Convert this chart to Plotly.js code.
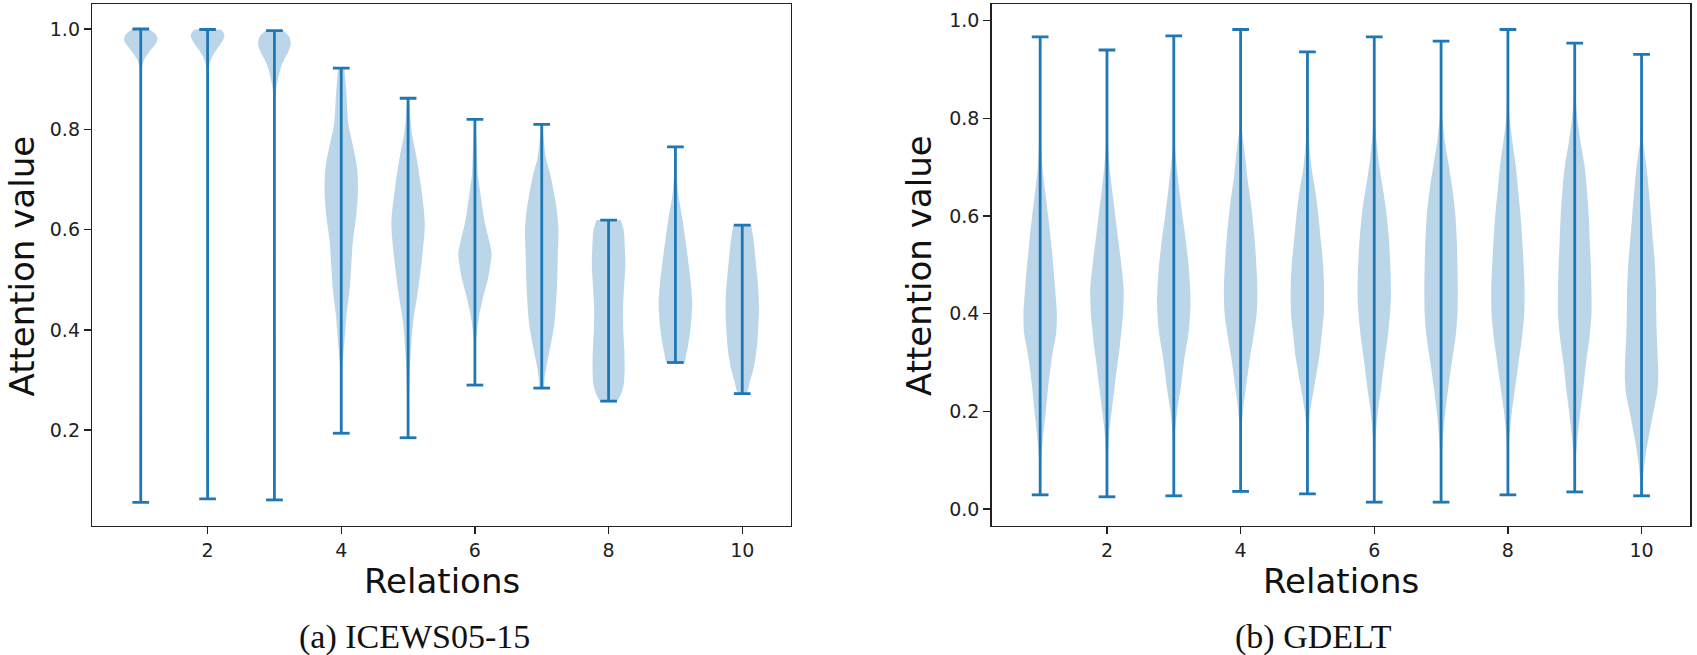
<!DOCTYPE html>
<html>
<head>
<meta charset="utf-8">
<script src="https://cdn.plot.ly/plotly-3.0.1.min.js"></script>
<style>
  html, body { margin: 0; padding: 0; background: #fff; }
  #chart { width: 1697px; height: 655px; }
</style>
</head>
<body>
<div id="chart"></div>
<script>
// ---------------- DATA ----------------
const relations = [1, 2, 3, 4, 5, 6, 7, 8, 9, 10];
const xTickVals = [2, 4, 6, 8, 10];

// (a) ICEWS05-15 : extremes of each violin
const icewsMax = [1.000, 0.999, 0.997, 0.922, 0.862, 0.820, 0.810, 0.619, 0.765, 0.609];
const icewsMin = [0.056, 0.063, 0.061, 0.194, 0.185, 0.290, 0.284, 0.258, 0.335, 0.273];
// density profile: attention levels (top -> bottom) and half widths (x units) at those levels
const icewsLevels = [
  [1.000, 0.990, 0.981, 0.970, 0.958, 0.945, 0.935, 0.920, 0.900, 0.850, 0.500, 0.056],
  [0.999, 0.990, 0.981, 0.971, 0.958, 0.945, 0.935, 0.925, 0.910, 0.880, 0.500, 0.063],
  [0.997, 0.985, 0.971, 0.960, 0.952, 0.940, 0.925, 0.910, 0.898, 0.885, 0.872, 0.860, 0.845, 0.800, 0.061],
  [0.922, 0.878, 0.812, 0.773, 0.725, 0.679, 0.629, 0.579, 0.529, 0.480, 0.430, 0.380, 0.314, 0.260, 0.194],
  [0.862, 0.829, 0.789, 0.745, 0.679, 0.613, 0.545, 0.480, 0.414, 0.346, 0.280, 0.185],
  [0.820, 0.759, 0.709, 0.679, 0.645, 0.613, 0.579, 0.553, 0.529, 0.505, 0.466, 0.426, 0.380, 0.290],
  [0.810, 0.779, 0.745, 0.709, 0.679, 0.639, 0.599, 0.545, 0.480, 0.414, 0.370, 0.330, 0.300, 0.284],
  [0.619, 0.599, 0.559, 0.529, 0.480, 0.440, 0.400, 0.361, 0.320, 0.290, 0.270, 0.258],
  [0.765, 0.719, 0.669, 0.625, 0.579, 0.539, 0.494, 0.450, 0.400, 0.370, 0.350, 0.335],
  [0.609, 0.573, 0.539, 0.505, 0.470, 0.440, 0.406, 0.374, 0.346, 0.326, 0.300, 0.273]
];
const icewsWidths = [
  [0.120, 0.220, 0.250, 0.220, 0.150, 0.080, 0.040, 0.015, 0.006, 0.003, 0.002, 0.002],
  [0.200, 0.250, 0.240, 0.200, 0.130, 0.070, 0.040, 0.020, 0.008, 0.003, 0.002, 0.002],
  [0.130, 0.220, 0.245, 0.225, 0.200, 0.150, 0.100, 0.070, 0.050, 0.030, 0.020, 0.010, 0.005, 0.002, 0.002],
  [0.045, 0.075, 0.105, 0.165, 0.235, 0.250, 0.225, 0.175, 0.150, 0.125, 0.080, 0.050, 0.010, 0.005, 0.003],
  [0.015, 0.030, 0.060, 0.125, 0.200, 0.250, 0.210, 0.150, 0.075, 0.035, 0.015, 0.005],
  [0.008, 0.030, 0.045, 0.075, 0.110, 0.150, 0.210, 0.250, 0.230, 0.200, 0.125, 0.060, 0.015, 0.005],
  [0.008, 0.030, 0.060, 0.130, 0.175, 0.225, 0.250, 0.240, 0.225, 0.190, 0.135, 0.075, 0.040, 0.030],
  [0.180, 0.225, 0.245, 0.250, 0.230, 0.215, 0.220, 0.235, 0.240, 0.225, 0.180, 0.120],
  [0.008, 0.015, 0.045, 0.100, 0.150, 0.190, 0.230, 0.250, 0.225, 0.190, 0.160, 0.130],
  [0.135, 0.175, 0.200, 0.225, 0.245, 0.250, 0.240, 0.225, 0.200, 0.175, 0.120, 0.060]
];

// (b) GDELT
const gdeltMax = [0.967, 0.940, 0.969, 0.982, 0.936, 0.967, 0.958, 0.982, 0.954, 0.931];
const gdeltMin = [0.029, 0.025, 0.027, 0.036, 0.031, 0.014, 0.014, 0.029, 0.035, 0.027];
const gdeltLevels = [
  [0.967, 0.85, 0.75, 0.70, 0.65, 0.60, 0.55, 0.50, 0.45, 0.40, 0.36, 0.33, 0.30, 0.25, 0.20, 0.15, 0.10, 0.06, 0.029],
  [0.940, 0.80, 0.75, 0.70, 0.65, 0.60, 0.55, 0.50, 0.45, 0.40, 0.37, 0.33, 0.30, 0.25, 0.20, 0.15, 0.10, 0.025],
  [0.969, 0.80, 0.75, 0.70, 0.65, 0.60, 0.55, 0.50, 0.45, 0.42, 0.38, 0.35, 0.31, 0.25, 0.20, 0.15, 0.10, 0.027],
  [0.982, 0.85, 0.78, 0.72, 0.68, 0.62, 0.56, 0.50, 0.45, 0.40, 0.36, 0.31, 0.25, 0.20, 0.15, 0.10, 0.036],
  [0.936, 0.80, 0.75, 0.70, 0.65, 0.60, 0.55, 0.50, 0.45, 0.40, 0.36, 0.31, 0.25, 0.20, 0.15, 0.10, 0.031],
  [0.967, 0.85, 0.78, 0.72, 0.68, 0.62, 0.56, 0.50, 0.44, 0.40, 0.35, 0.30, 0.25, 0.20, 0.15, 0.10, 0.014],
  [0.958, 0.85, 0.80, 0.75, 0.70, 0.65, 0.60, 0.55, 0.50, 0.45, 0.40, 0.35, 0.30, 0.25, 0.20, 0.15, 0.10, 0.014],
  [0.982, 0.85, 0.80, 0.75, 0.70, 0.65, 0.60, 0.55, 0.50, 0.45, 0.40, 0.35, 0.30, 0.25, 0.20, 0.15, 0.10, 0.029],
  [0.954, 0.85, 0.80, 0.75, 0.70, 0.65, 0.60, 0.55, 0.50, 0.45, 0.40, 0.35, 0.30, 0.25, 0.20, 0.15, 0.10, 0.035],
  [0.931, 0.80, 0.75, 0.70, 0.65, 0.60, 0.55, 0.50, 0.45, 0.40, 0.35, 0.30, 0.27, 0.24, 0.20, 0.15, 0.10, 0.06, 0.027]
];
const gdeltWidths = [
  [0.002, 0.004, 0.015, 0.035, 0.075, 0.120, 0.160, 0.195, 0.225, 0.250, 0.240, 0.200, 0.165, 0.120, 0.085, 0.045, 0.015, 0.005, 0.002],
  [0.002, 0.005, 0.015, 0.040, 0.080, 0.125, 0.170, 0.215, 0.250, 0.240, 0.220, 0.190, 0.160, 0.115, 0.070, 0.030, 0.010, 0.002],
  [0.002, 0.004, 0.012, 0.045, 0.085, 0.130, 0.180, 0.220, 0.245, 0.250, 0.235, 0.210, 0.160, 0.105, 0.050, 0.015, 0.005, 0.002],
  [0.002, 0.005, 0.020, 0.070, 0.100, 0.160, 0.205, 0.235, 0.250, 0.240, 0.200, 0.140, 0.080, 0.035, 0.012, 0.004, 0.002],
  [0.002, 0.006, 0.025, 0.060, 0.120, 0.165, 0.200, 0.235, 0.250, 0.245, 0.215, 0.175, 0.100, 0.040, 0.012, 0.004, 0.002],
  [0.002, 0.005, 0.020, 0.060, 0.100, 0.170, 0.215, 0.240, 0.250, 0.235, 0.200, 0.150, 0.105, 0.055, 0.022, 0.008, 0.002],
  [0.002, 0.006, 0.020, 0.060, 0.120, 0.175, 0.215, 0.235, 0.245, 0.250, 0.245, 0.215, 0.160, 0.110, 0.065, 0.030, 0.010, 0.002],
  [0.002, 0.008, 0.025, 0.070, 0.120, 0.155, 0.190, 0.215, 0.235, 0.250, 0.245, 0.210, 0.160, 0.110, 0.060, 0.025, 0.008, 0.002],
  [0.002, 0.010, 0.040, 0.090, 0.150, 0.185, 0.210, 0.225, 0.240, 0.250, 0.250, 0.220, 0.170, 0.130, 0.085, 0.045, 0.015, 0.003],
  [0.002, 0.006, 0.025, 0.075, 0.110, 0.140, 0.170, 0.200, 0.215, 0.220, 0.230, 0.245, 0.250, 0.235, 0.180, 0.110, 0.050, 0.020, 0.006]
];

const captions = ['(a) ICEWS05-15', '(b) GDELT'];
const xTitle = 'Relations';
const yTitle = 'Attention value';

// ---------------- STYLE ----------------
const C0 = '#1f77b4';
const FILL = 'rgba(31,119,180,0.3)';
const LINE_W = 2.8;
const CAP_HALF = 0.125;

function violinTraces(levels, widths, mins, maxs, xa, ya) {
  const traces = [];
  relations.forEach((pos, i) => {
    const lv = levels[i], wd = widths[i];
    const xs = [], ys = [];
    for (let k = 0; k < lv.length; k++) { xs.push(pos + wd[k]); ys.push(lv[k]); }
    for (let k = lv.length - 1; k >= 0; k--) { xs.push(pos - wd[k]); ys.push(lv[k]); }
    traces.push({
      type: 'scatter', mode: 'lines', x: xs, y: ys, xaxis: xa, yaxis: ya,
      fill: 'toself', fillcolor: FILL,
      line: { width: 0, color: FILL, shape: 'spline', smoothing: 0.8 },
      hoverinfo: 'skip', showlegend: false
    });
  });
  // bars and caps
  const lx = [], ly = [];
  relations.forEach((pos, i) => {
    lx.push(pos, pos, null); ly.push(mins[i], maxs[i], null);
    lx.push(pos - CAP_HALF, pos + CAP_HALF, null); ly.push(maxs[i], maxs[i], null);
    lx.push(pos - CAP_HALF, pos + CAP_HALF, null); ly.push(mins[i], mins[i], null);
  });
  traces.push({
    type: 'scatter', mode: 'lines', x: lx, y: ly, xaxis: xa, yaxis: ya,
    line: { color: C0, width: LINE_W }, connectgaps: false,
    hoverinfo: 'skip', showlegend: false
  });
  return traces;
}

const data = [].concat(
  violinTraces(icewsLevels, icewsWidths, icewsMin, icewsMax, 'x', 'y'),
  violinTraces(gdeltLevels, gdeltWidths, gdeltMin, gdeltMax, 'x2', 'y2')
);

const W = 1697, H = 655;
const tickFont = { family: 'DejaVu Sans, sans-serif', size: 19, color: '#222' };
const titleFont = { family: 'DejaVu Sans, sans-serif', size: 34, color: '#111' };
const capFont = { family: 'Liberation Serif, Times New Roman, serif', size: 34, color: '#111' };

// panel geometry (pixels of the 1697x655 page)
const panelLeft = [92.3, 991.7], panelRight = [790.7, 1690];
const panelTop = 4.3, panelBottom = 525.7;

function xAxis(i, anchor) {
  return {
    domain: [panelLeft[i] / W, panelRight[i] / W], range: [0.275, 10.725], tickvals: xTickVals,
    anchor: anchor,
    ticks: 'outside', ticklen: 7, tickwidth: 1.5, tickcolor: '#222',
    showline: true, mirror: true, linecolor: '#222', linewidth: 1.5,
    showgrid: false, zeroline: false, tickfont: tickFont, fixedrange: true
  };
}
function yAxis(range, tickvals, anchor) {
  return {
    domain: [1 - panelBottom / H, 1 - panelTop / H], range: range, tickvals: tickvals,
    tickformat: '.1f', anchor: anchor,
    ticks: 'outside', ticklen: 7, tickwidth: 1.5, tickcolor: '#222',
    showline: true, mirror: true, linecolor: '#222', linewidth: 1.5,
    showgrid: false, zeroline: false, tickfont: tickFont, fixedrange: true
  };
}

const ylabelX = [21.5, 919];
const captionX = [414, 1313];
const annotations = [];
[0, 1].forEach(i => {
  annotations.push({ text: xTitle, xref: 'paper', yref: 'paper',
    x: (panelLeft[i] + panelRight[i]) / 2 / W, y: 1 - 581 / H,
    xanchor: 'center', yanchor: 'middle', showarrow: false, font: titleFont });
  annotations.push({ text: yTitle, xref: 'paper', yref: 'paper', textangle: -90,
    x: ylabelX[i] / W, y: 1 - 266 / H,
    xanchor: 'center', yanchor: 'middle', showarrow: false, font: titleFont });
  annotations.push({ text: captions[i], xref: 'paper', yref: 'paper',
    x: captionX[i] / W, y: 1 - 637 / H,
    xanchor: 'center', yanchor: 'middle', showarrow: false, font: capFont });
});

const layout = {
  width: W, height: H,
  margin: { l: 0, r: 0, t: 0, b: 0 },
  paper_bgcolor: '#fff', plot_bgcolor: '#fff',
  showlegend: false,
  xaxis: xAxis(0, 'y'),
  yaxis: yAxis([0.0096, 1.0493], [0.2, 0.4, 0.6, 0.8, 1.0], 'x'),
  xaxis2: xAxis(1, 'y2'),
  yaxis2: yAxis([-0.0342, 1.0336], [0, 0.2, 0.4, 0.6, 0.8, 1.0], 'x2'),
  annotations: annotations
};

Plotly.newPlot('chart', data, layout, { staticPlot: true, displayModeBar: false });
</script>
</body>
</html>
